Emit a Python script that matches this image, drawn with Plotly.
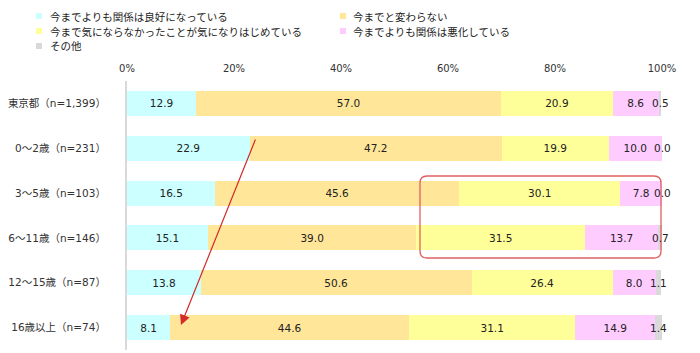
import plotly.graph_objects as go

categories = ["東京都（n=1,399）", "0～2歳（n=231）", "3～5歳（n=103）",
              "6～11歳（n=146）", "12～15歳（n=87）", "16歳以上（n=74）"]
series_names = ["今までよりも関係は良好になっている", "今までと変わらない",
                "今まで気にならなかったことが気になりはじめている",
                "今までよりも関係は悪化している", "その他"]
better = [12.9, 22.9, 16.5, 15.1, 13.8, 8.1]
same = [57.0, 47.2, 45.6, 39.0, 50.6, 44.6]
worry = [20.9, 19.9, 30.1, 31.5, 26.4, 31.1]
worse = [8.6, 10.0, 7.8, 13.7, 8.0, 14.9]
other = [0.5, 0.0, 0.0, 0.7, 1.1, 1.4]
tick_vals = [0, 20, 40, 60, 80, 100]
tick_text = ["0%", "20%", "40%", "60%", "80%", "100%"]

colors = ["#CCFFFF", "#FFE699", "#FFFF99", "#FFCCFF", "#D9D9D9"]
series = [better, same, worry, worse, other]

W, H = 700, 353
L, R, T, B = 127, 38, 81, 3
PW, PH = W - L - R, H - T - B


def px2paper(px, py):
    return (px - L) / PW, 1 - (py - T) / PH


num_font = "DejaVu Sans, Noto Sans CJK JP"
fig = go.Figure()
for i, (name, vals, col) in enumerate(zip(series_names, series, colors)):
    fig.add_trace(go.Bar(
        y=categories, x=vals, name=name, orientation="h",
        marker=dict(color=col, line=dict(width=0)),
        text=[f"{v:.1f}" for v in vals] if i < 4 else None,
        textposition="inside" if i < 4 else "none",
        insidetextanchor="middle", constraintext="none", textangle=0,
        textfont=dict(family=num_font, size=10.5, color="#222222"),
        showlegend=False, hoverinfo="skip",
    ))

annotations = []
# labels for the small "other" segments
for j, cat in enumerate(categories):
    base = better[j] + same[j] + worry[j] + worse[j]
    annotations.append(dict(
        x=base + other[j] / 2, y=j, xref="x", yref="y", text=f"{other[j]:.1f}",
        showarrow=False, font=dict(family=num_font, size=10.5, color="#222222"),
        xanchor="center", yanchor="middle"))

# manual legend
legend_pos = [(39, 16, 48), (343, 16, 351), (39, 31, 48), (343, 31, 351), (39, 46, 48)]
legend_order = [0, 1, 2, 3, 4]
shapes = []
for (mx, my, tx), k in zip(legend_pos, legend_order):
    x0, y0 = px2paper(mx - 3, my - 3)
    x1, y1 = px2paper(mx + 3, my + 3)
    shapes.append(dict(type="rect", xref="paper", yref="paper", x0=x0, x1=x1, y0=y1, y1=y0,
                       fillcolor=colors[k], line=dict(width=0)))
    ax_, ay_ = px2paper(tx, my)
    annotations.append(dict(x=ax_, y=ay_, xref="paper", yref="paper", text=series_names[k],
                            showarrow=False, xanchor="left", yanchor="middle",
                            font=dict(family="Noto Sans CJK JP", size=10.5, color="#222222")))

# red arrow
annotations.append(dict(
    x=(181 - L) / PW * 100, y=(325 - T) / (PH / 6) - 0.5, xref="x", yref="y",
    ax=(256 - L) / PW * 100, ay=(138 - T) / (PH / 6) - 0.5, axref="x", ayref="y",
    text="", showarrow=True, arrowhead=2, arrowsize=1.7, arrowwidth=1.2,
    arrowcolor="#D42A2A", standoff=0))

# rounded red rectangle
rx0, ry0, rx1, ry1, rr = 420, 176, 661, 258, 7


def P(px, py):
    a, b = px2paper(px, py)
    return f"{a:.5f},{b:.5f}"


path = (f"M {P(rx0 + rr, ry0)} L {P(rx1 - rr, ry0)} Q {P(rx1, ry0)} {P(rx1, ry0 + rr)} "
        f"L {P(rx1, ry1 - rr)} Q {P(rx1, ry1)} {P(rx1 - rr, ry1)} "
        f"L {P(rx0 + rr, ry1)} Q {P(rx0, ry1)} {P(rx0, ry1 - rr)} "
        f"L {P(rx0, ry0 + rr)} Q {P(rx0, ry0)} {P(rx0 + rr, ry0)} Z")
shapes.append(dict(type="path", xref="paper", yref="paper", path=path,
                   line=dict(color="#E06060", width=1.3)))

fig.update_layout(
    barmode="stack", bargap=0.44,
    width=W, height=H,
    margin=dict(l=L, r=R, t=T, b=B, pad=0),
    paper_bgcolor="white", plot_bgcolor="white",
    font=dict(family=num_font, size=10, color="#333333"),
    xaxis=dict(range=[0, 100], side="top", tickvals=tick_vals, ticktext=tick_text,
               showgrid=False, zeroline=False, showline=False, ticks="",
               ticklabelstandoff=6,
               tickfont=dict(family=num_font, size=10, color="#333333")),
    yaxis=dict(autorange="reversed", showgrid=False, zeroline=False,
               showline=True, linecolor="#D9D9D9", linewidth=2, ticks="",
               ticklabelstandoff=17,
               tickfont=dict(family=num_font, size=10.5, color="#333333")),
    shapes=shapes, annotations=annotations,
)

fig.write_html("out.html")
